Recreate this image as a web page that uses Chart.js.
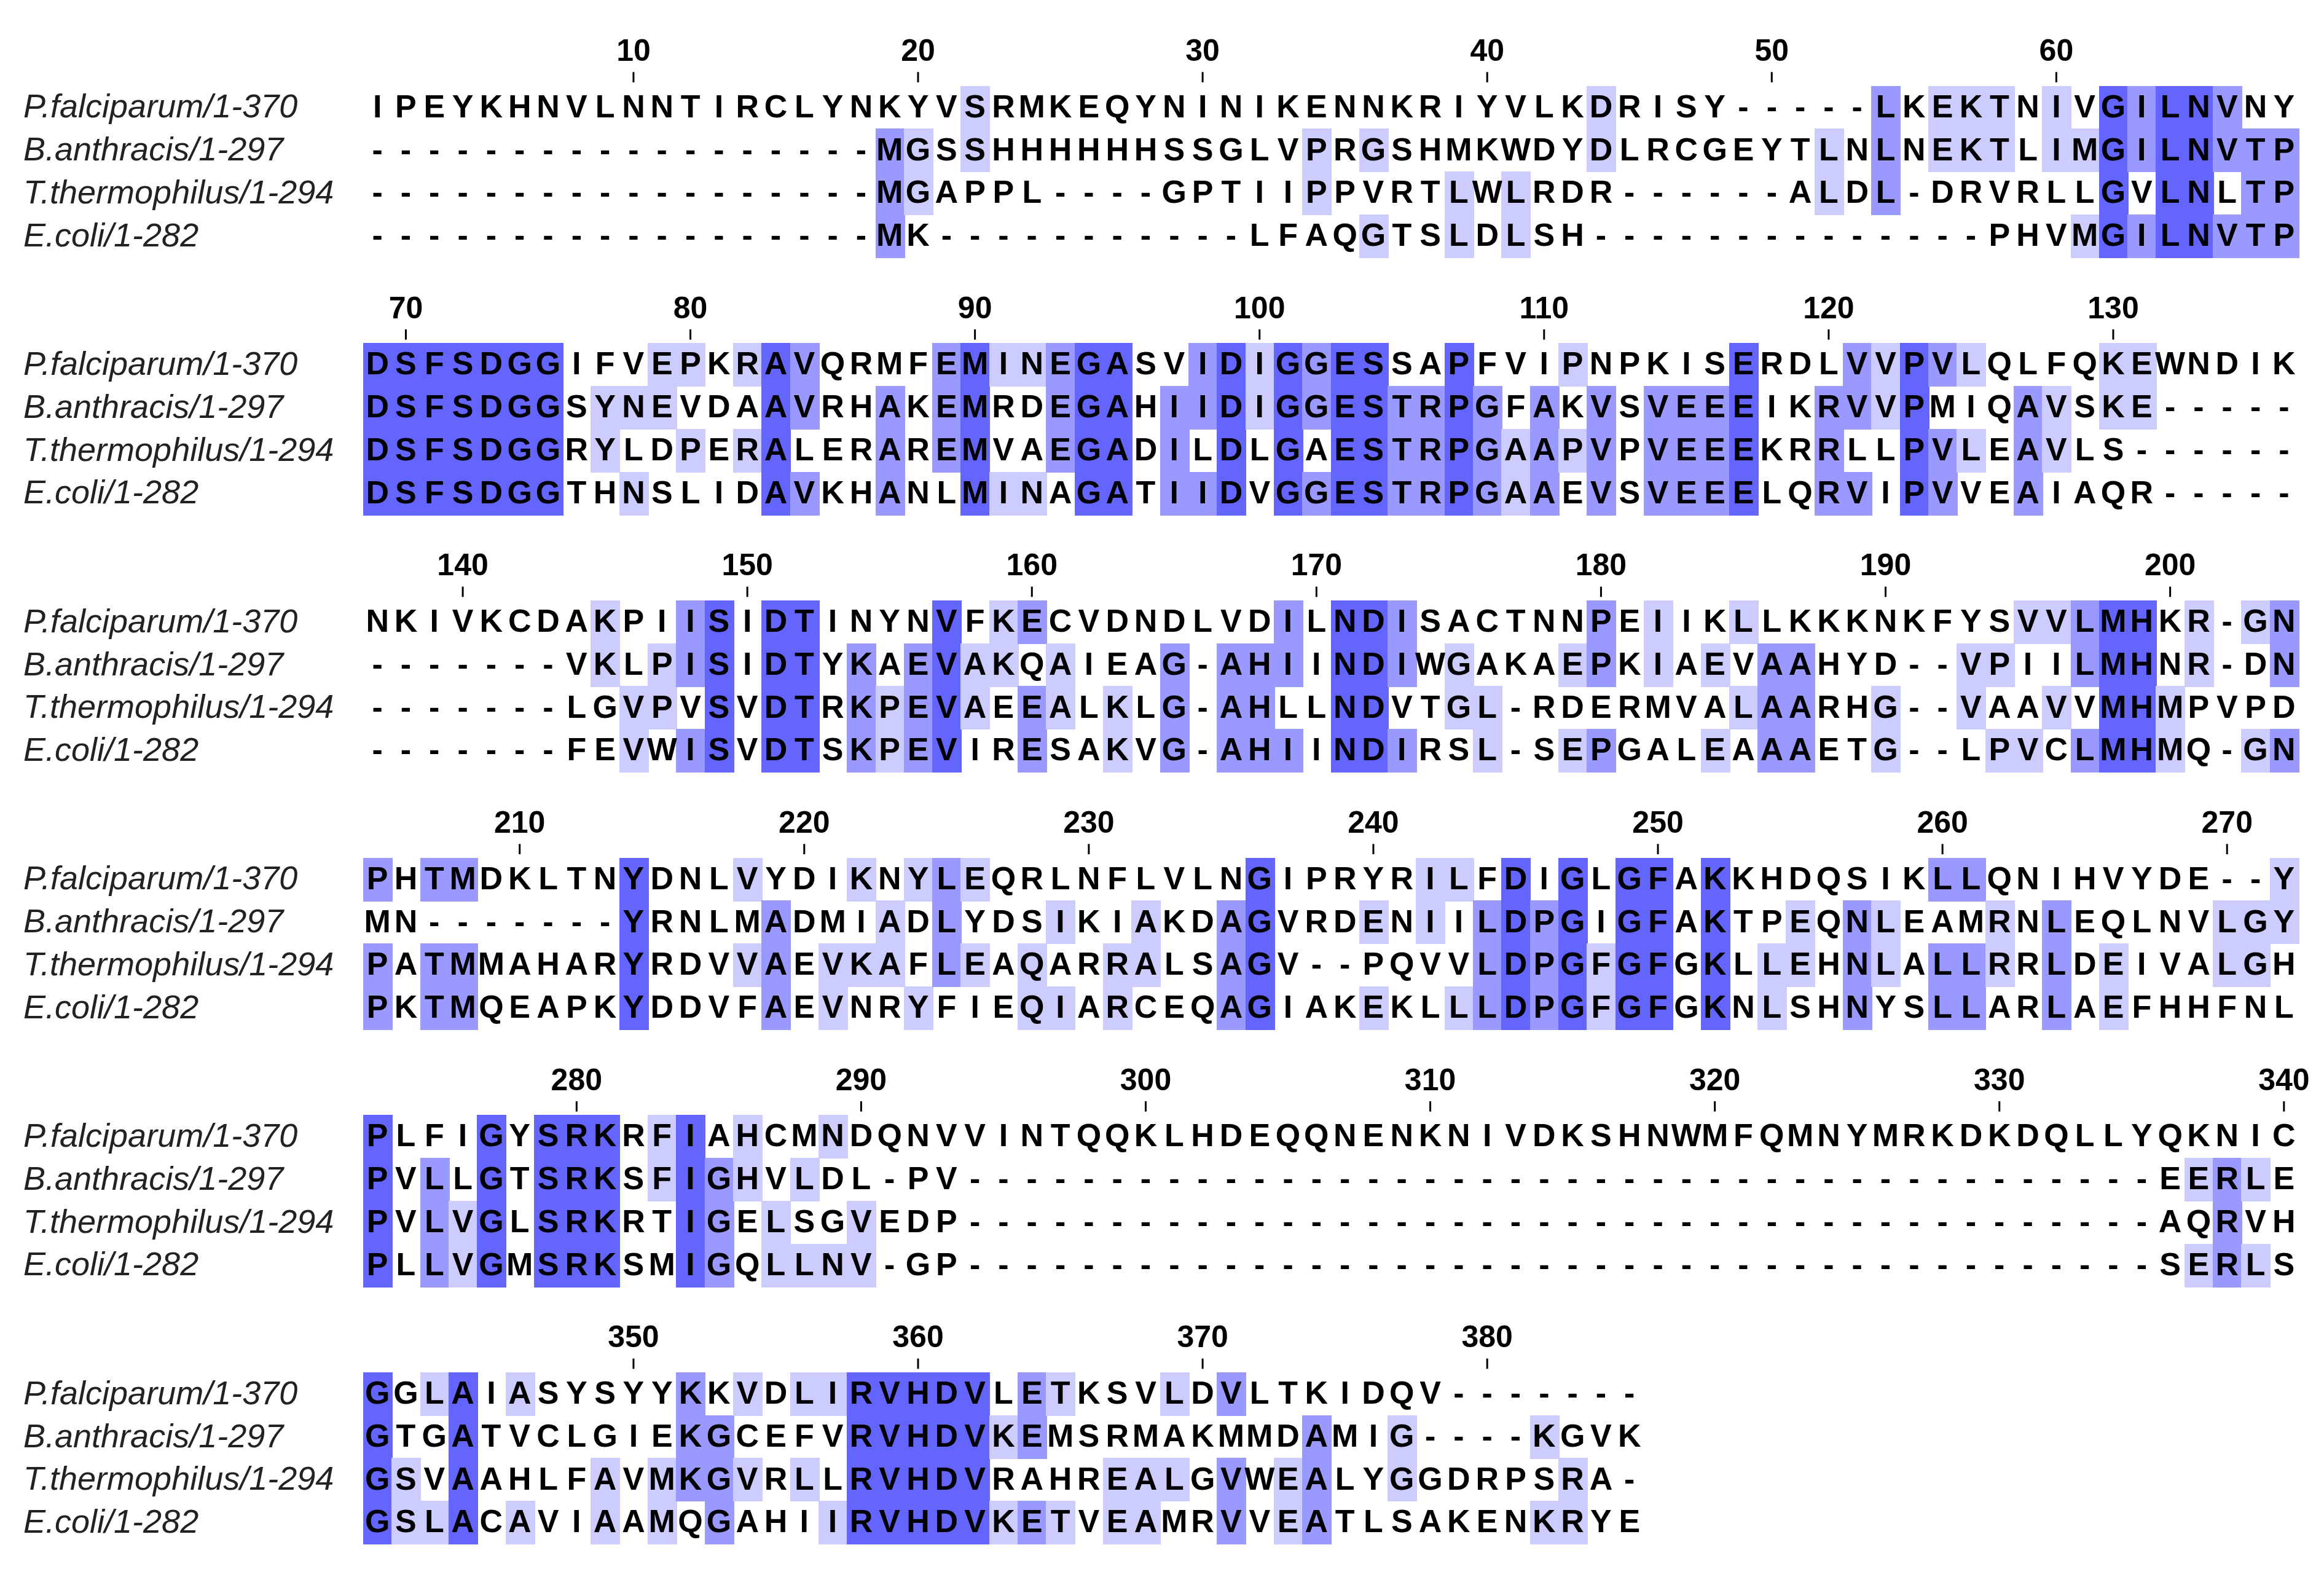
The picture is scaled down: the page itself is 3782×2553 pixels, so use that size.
<!DOCTYPE html>
<html><head><meta charset="utf-8">
<script src="https://cdn.jsdelivr.net/npm/chart.js@4.4.1/dist/chart.umd.min.js"></script>
<style>html,body{margin:0;padding:0;background:#fff}#wrap{width:3782px;height:2553px}</style>
</head><body><div id="wrap"><canvas id="c"></canvas></div>
<script>
const names = ["P.falciparum/1-370","B.anthracis/1-297","T.thermophilus/1-294","E.coli/1-282"];
const D42 = "-".repeat(42);
const seqPF = ["IPEYKHNVLNNTIRCLYNKYVSRMKEQYNINIKENNKRIYVLKDRISY-----LKEKTNIVGILNVNY",
 "DSFSDGGIFVEPKRAVQRMFEMINEGASVIDIGGESSAPFVIPNPKISERDLVVPVLQLFQKEWNDIK",
 "NKIVKCDAKPIISIDTINYNVFKECVDNDLVDILNDISACTNNPEIIKLLKKKNKFYSVVLMHKR-GN",
 "PHTMDKLTNYDNLVYDIKNYLEQRLNFLVLNGIPRYRILFDIGLGFAKKHDQSIKLLQNIHVYDE--Y",
 "PLFIGYSRKRFIAHCMNDQNVVINTQQKLHDEQQNENKNIVDKSHNWMFQMNYMRKDKDQLLYQKNIC",
 "GGLAIASYSYYKKVDLIRVHDVLETKSVLDVLTKIDQV-------"].join("");
const seqBA = ["------------------MGSSHHHHHHSSGLVPRGSHMKWDYDLRCGEYTLNLNEKTLIMGILNVTP",
 "DSFSDGGSYNEVDAAVRHAKEMRDEGAHIIDIGGESTRPGFAKVSVEEEIKRVVPMIQAVSKE-----",
 "-------VKLPISIDTYKAEVAKQAIEAG-AHIINDIWGAKAEPKIAEVAAHYD--VPIILMHNR-DN",
 "MN-------YRNLMADMIADLYDSIKIAKDAGVRDENIILDPGIGFAKTPEQNLEAMRNLEQLNVLGY",
 "PVLLGTSRKSFIGHVLDL-PV"+D42+"EERLE",
 "GTGATVCLGIEKGCEFVRVHDVKEMSRMAKMMDAMIG----KGVK"].join("");
const seqTT = ["------------------MGAPPL----GPTIIPPVRTLWLRDR------ALDL-DRVRLLGVLNLTP",
 "DSFSDGGRYLDPERALERAREMVAEGADILDLGAESTRPGAAPVPVEEEKRRLLPVLEAVLS------",
 "-------LGVPVSVDTRKPEVAEEALKLG-AHLLNDVTGL-RDERMVALAARHG--VAAVVMHMPVPD",
 "PATMMAHARYRDVVAEVKAFLEAQARRALSAGV--PQVVLDPGFGFGKLLEHNLALLRRLDEIVALGH",
 "PVLVGLSRKRTIGELSGVEDP"+D42+"AQRVH",
 "GSVAAHLFAVMKGVRLLRVHDVRAHREALGVWEALYGGDRPSRA-"].join("");
const seqEC = ["------------------MK-----------LFAQGTSLDLSH--------------PHVMGILNVTP",
 "DSFSDGGTHNSLIDAVKHANLMINAGATIIDVGGESTRPGAAEVSVEEELQRVIPVVEAIAQR-----",
 "-------FEVWISVDTSKPEVIRESAKVG-AHIINDIRSL-SEPGALEAAAETG--LPVCLMHMQ-GN",
 "PKTMQEAPKYDDVFAEVNRYFIEQIARCEQAGIAKEKLLLDPGFGFGKNLSHNYSLLARLAEFHHFNL",
 "PLLVGMSRKSMIGQLLNV-GP"+D42+"SERLS",
 "GSLACAVIAAMQGAHIIRVHDVKETVEAMRVVEATLSAKENKRYE"].join("");
const sequences = [seqPF, seqBA, seqTT, seqEC];
const tickLabels = [10,20,30,40,50,60,70,80,90,100,110,120,130,140,150,160,170,180,190,200,210,220,230,240,250,260,270,280,290,300,310,320,330,340,350,360,370,380];
const blockWidth = 68;
const shadeColors = {high:"#6464ff", mid:"#9999ff", low:"#ccccff"};

const totalLen = Math.max(...sequences.map(s=>s.length));
function colShade(i){
  const cnt={};
  sequences.forEach(s=>{const c=s[i]; if(c && c!=='-'){cnt[c]=(cnt[c]||0)+1;}});
  let best=null,bc=0,tie=false;
  for(const k in cnt){ if(cnt[k]>bc){bc=cnt[k];best=k;tie=false;} else if(cnt[k]===bc){tie=true;} }
  if(!best||tie) return null;
  const p=bc/sequences.length*100;
  const col = p>80?shadeColors.high:p>60?shadeColors.mid:p>40?shadeColors.low:null;
  return col?{res:best,color:col}:null;
}
// build per-cell records from the data
const cells=[];
for(let i=0;i<totalLen;i++){
  const sh=colShade(i);
  const block=Math.floor(i/blockWidth), col=i%blockWidth+1;
  sequences.forEach((s,r)=>{
    const ch=s[i]; if(ch===undefined) return;
    cells.push({x:col,y:block*6+2+r,ch,bg:(sh&&ch===sh.res)?sh.color:null});
  });
}
const nBlocks=Math.ceil(totalLen/blockWidth);
const tickRecs=tickLabels.map(t=>({x:(t-1)%blockWidth+1,y:Math.floor((t-1)/blockWidth)*6,label:String(t)}));

const alignPlugin={id:'align',afterDatasetsDraw(chart){
  const ctx=chart.ctx,xs=chart.scales.x,ys=chart.scales.y;
  const cw=Math.abs(xs.getPixelForValue(1.5)-xs.getPixelForValue(0.5));
  const rh=Math.abs(ys.getPixelForValue(1.5)-ys.getPixelForValue(0.5));
  ctx.save();
  // backgrounds
  cells.forEach(c=>{ if(!c.bg) return;
    const x0=xs.getPixelForValue(c.x-0.5), y0=ys.getPixelForValue(c.y-0.5);
    ctx.fillStyle=c.bg; ctx.fillRect(Math.round(x0),Math.round(y0),Math.ceil(cw)+1,Math.ceil(rh)+1);
  });
  ctx.fillStyle="#000"; ctx.textAlign="center"; ctx.textBaseline="middle";
  ctx.font="bold 52px 'Liberation Sans', Arial, sans-serif";
  cells.forEach(c=>{
    ctx.fillText(c.ch==='-'?'-':c.ch, xs.getPixelForValue(c.x), ys.getPixelForValue(c.y)+2);
  });
  // ticks
  ctx.font="bold 50px 'Liberation Sans', Arial, sans-serif";
  ctx.strokeStyle="#000"; ctx.lineWidth=3;
  tickRecs.forEach(t=>{
    const px=xs.getPixelForValue(t.x);
    ctx.fillText(t.label,px,ys.getPixelForValue(t.y+0.72));
    ctx.beginPath(); ctx.moveTo(px,ys.getPixelForValue(t.y+1.18)); ctx.lineTo(px,ys.getPixelForValue(t.y+1.42)); ctx.stroke();
  });
  // labels
  ctx.textAlign="left"; ctx.fillStyle="#222";
  ctx.font="italic 54px 'Liberation Sans', Arial, sans-serif";
  for(let b=0;b<nBlocks;b++){
    names.forEach((n,r)=>{ ctx.fillText(n,38,ys.getPixelForValue(b*6+2+r)+2); });
  }
  ctx.restore();
}};

new Chart(document.getElementById('c'),{
  type:'scatter',
  data:{datasets:[{data:cells.map(c=>({x:c.x,y:c.y})),pointRadius:0,pointHoverRadius:0}]},
  options:{
    responsive:true,maintainAspectRatio:false,devicePixelRatio:1,animation:false,
    events:[],
    layout:{padding:{left:591,right:42,top:0,bottom:41}},
    plugins:{legend:{display:false},tooltip:{enabled:false}},
    scales:{
      x:{type:'linear',min:0.5,max:68.5,display:false},
      y:{type:'linear',min:-0.5,max:35.5,reverse:true,display:false}
    }
  },
  plugins:[alignPlugin]
});
</script></body></html>
